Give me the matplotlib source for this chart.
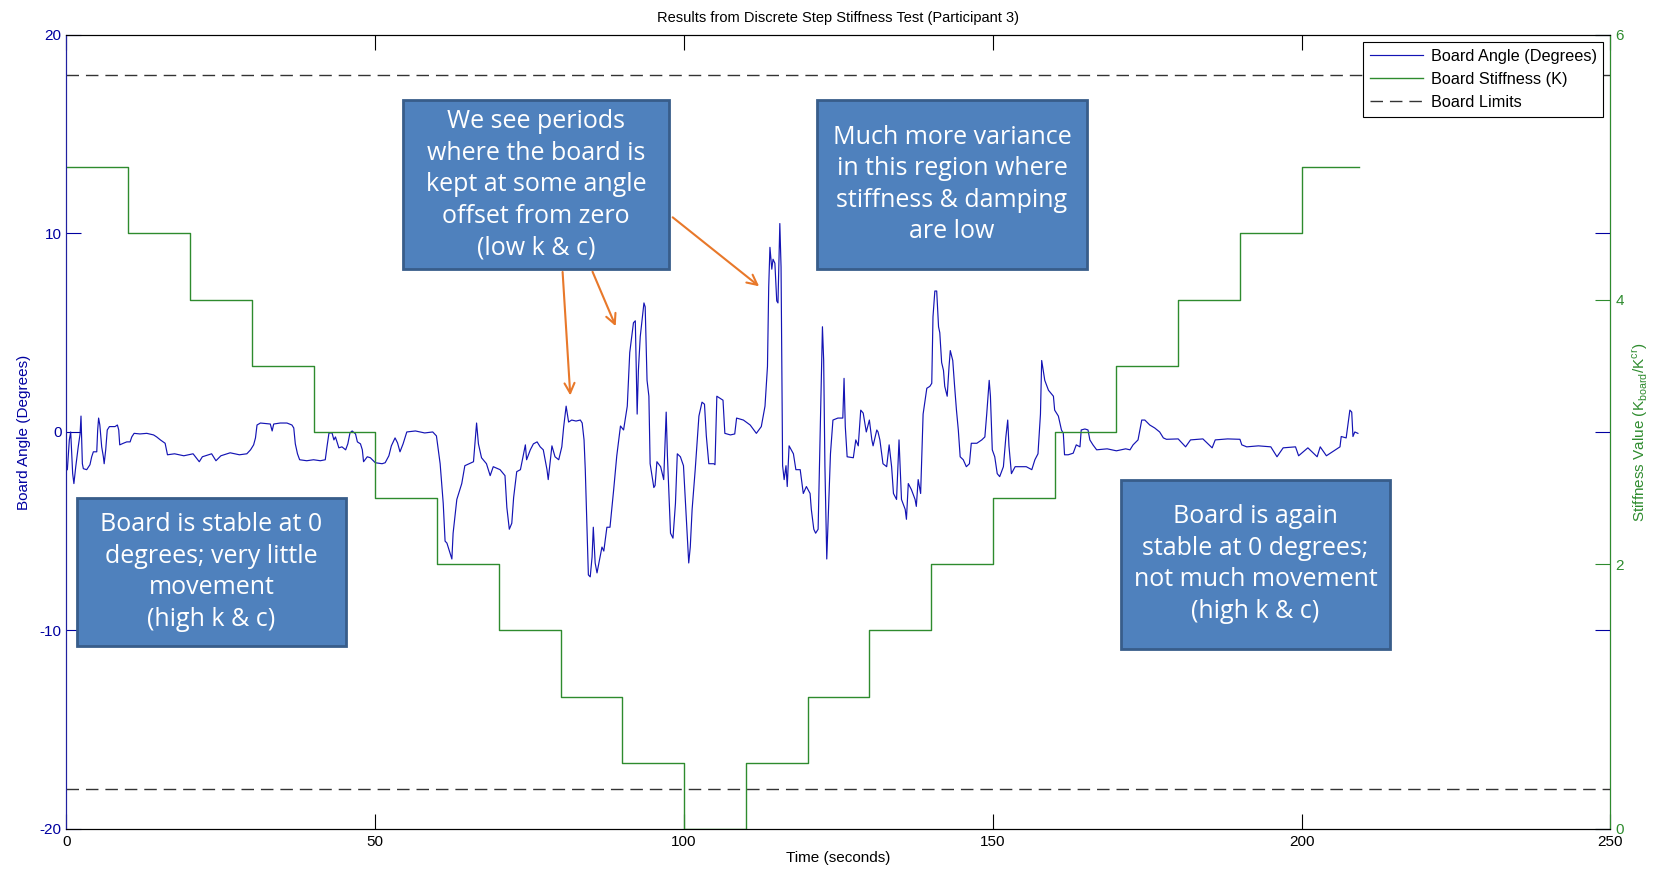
import numpy as np
import matplotlib
matplotlib.use("Agg")
import matplotlib.pyplot as plt
from matplotlib.patches import Rectangle

plt.rcParams['font.family'] = ['Liberation Sans', 'DejaVu Sans']
plt.rcParams['axes.unicode_minus'] = False

# board angle trace (seconds, degrees)
angle_t = [0.14, 0.46, 0.68, 1.0, 1.2, 1.5, 1.9, 2.2, 2.35, 2.57, 2.73, 3.27, 3.8, 4.08, 4.35, 4.9,
           5.05, 5.2, 5.4, 5.7, 5.97, 6.1, 6.35, 6.6, 6.95, 7.86, 8.24, 8.46, 8.62, 9.2, 9.76, 10.3,
           10.57, 10.95, 11.9, 13.0, 14.1, 14.6, 15.2, 15.97, 16.35, 17.5, 19.0, 20.5, 21.5, 22.0,
           23.5, 24.2, 25.0, 26.5, 28.0, 29.2, 29.8, 30.3, 30.6, 30.85, 31.4, 33.0, 33.3, 33.55,
           34.6, 35.7, 36.5, 36.8, 37.05, 37.4, 37.75, 38.9, 40.0, 41.1, 41.9, 42.2, 42.5, 43.0,
           43.3, 43.55, 44.1, 44.6, 45.2, 45.55, 45.9, 46.25, 46.8, 47.1, 47.6, 47.9, 48.1, 48.7,
           49.2, 50.0, 51.1, 51.6, 52.2, 52.6, 53.2, 53.6, 54.0, 54.5, 55.1, 56.5, 58.0, 59.3,
           59.9, 60.5, 61.0, 61.3, 61.6, 62.0, 62.4, 62.6, 63.2, 64.0, 64.5, 65.2, 65.9, 66.4,
           66.7, 67.2, 68.0, 68.6, 69.1, 70.2, 71.0, 71.3, 71.7, 72.1, 72.4, 72.9, 73.5, 74.3,
           74.5, 75.1, 75.6, 76.2, 76.7, 77.2, 77.8, 78.0, 78.6, 79.1, 79.7, 80.2, 80.5, 80.9,
           81.3, 81.8, 82.5, 83.2, 83.5, 83.8, 84.0, 84.3, 84.5, 84.8, 85.1, 85.3, 85.6, 85.9,
           86.4, 86.7, 87.0, 87.5, 88.0, 88.6, 89.1, 89.7, 90.2, 90.8, 91.2, 91.8, 92.1, 92.4,
           92.6, 92.9, 93.5, 93.7, 94.0, 94.3, 94.5, 95.1, 95.3, 95.6, 96.2, 96.7, 97.1, 97.3,
           97.8, 98.2, 98.6, 98.9, 99.4, 99.9, 100.2, 100.75, 101.0, 101.3, 101.8, 102.4, 102.9,
           103.3, 103.6, 104.0, 104.8, 105.0, 105.3, 106.3, 106.6, 107.5, 108.2, 108.5, 109.6,
           110.7, 111.7, 112.5, 113.1, 113.5, 113.7, 113.9, 114.2, 114.4, 114.7, 115.0, 115.2,
           115.5, 115.7, 115.8, 115.95, 116.2, 116.5, 116.7, 117.0, 117.7, 118.1, 118.8, 119.3,
           119.8, 120.4, 120.6, 121.0, 121.3, 121.7, 122.1, 122.4, 122.6, 122.8, 123.1, 123.3,
           123.7, 124.1, 124.9, 125.7, 125.9, 126.1, 126.4, 127.4, 127.8, 128.2, 128.6, 129.0,
           129.5, 130.0, 130.4, 130.6, 131.2, 131.4, 131.7, 132.2, 132.8, 133.2, 133.6, 133.9,
           134.4, 134.8, 135.2, 135.8, 136.0, 136.3, 136.8, 137.4, 137.6, 137.9, 138.3, 138.7,
           139.3, 139.8, 140.1, 140.3, 140.6, 140.9, 141.2, 141.4, 141.7, 142.0, 142.2, 142.6,
           142.9, 143.1, 143.5, 143.8, 144.1, 144.4, 144.7, 145.2, 145.7, 146.2, 146.5, 147.4,
           148.2, 148.7, 149.0, 149.4, 149.6, 149.9, 150.3, 150.7, 151.1, 151.7, 152.1, 152.4,
           152.6, 153.0, 153.6, 154.4, 155.4, 156.3, 156.8, 157.3, 157.7, 157.9, 158.4, 159.0,
           159.8, 160.0, 160.6, 161.1, 161.4, 161.6, 162.2, 163.0, 163.5, 164.1, 164.3, 164.9,
           165.4, 165.7, 166.2, 166.8, 168.5, 170.0, 171.5, 172.2, 172.7, 173.5, 174.1, 174.6,
           175.4, 176.2, 177.0, 177.6, 178.1, 180.0, 181.2, 182.0, 184.0, 185.5, 186.0, 188.0,
           190.0, 190.3, 191.1, 193.0, 195.0, 196.0, 197.0, 199.0, 199.5, 201.0, 202.5, 203.0,
           204.0, 206.2, 206.4, 207.2, 207.8, 208.1, 208.3, 208.6, 209.1]
angle_v = [-1.9, -0.4, 0.0, -2.1, -2.6, -1.75, -0.75, -0.1, 0.8, -1.6, -1.85, -1.9, -1.65, -1.25, -1.0, -1.0,
           0.1, 0.7, 0.35, -0.75, -1.25, -1.6, -0.9, 0.1, 0.27, 0.27, 0.35, 0.1, -0.65, -0.57, -0.5, -0.5,
           -0.25, -0.07, -0.1, -0.07, -0.15, -0.25, -0.4, -0.57, -1.15, -1.1, -1.2, -1.1, -1.5, -1.25,
           -1.1, -1.45, -1.2, -1.05, -1.15, -1.1, -0.9, -0.65, -0.3, 0.35, 0.45, 0.4, 0.05, 0.4,
           0.45, 0.45, 0.35, 0.2, -0.6, -1.1, -1.4, -1.45, -1.4, -1.45, -1.4, -0.7, -0.05, -0.05,
           -0.4, -0.25, -0.8, -0.75, -0.9, -0.6, -0.05, 0.05, -0.1, -0.5, -0.6, -0.9, -1.5, -1.25,
           -1.3, -1.55, -1.6, -1.55, -1.2, -0.7, -0.3, -0.55, -1.0, -0.6, 0.0, 0.05, -0.05, 0.0,
           -0.2, -1.6, -3.6, -5.5, -5.6, -6.0, -6.4, -5.1, -3.4, -2.6, -1.7, -1.6, -1.5, 0.45,
           -0.6, -1.3, -1.6, -2.2, -1.75, -1.9, -2.2, -3.8, -4.9, -4.6, -3.3, -2.0, -1.9, -0.65,
           -1.4, -0.9, -0.6, -0.5, -0.75, -0.9, -1.9, -2.4, -0.7, -1.25, -1.4, -0.75, 0.25, 1.3,
           0.5, 0.6, 0.55, 0.6, 0.45, -0.4, -1.9, -5.1, -7.2, -7.3, -6.3, -4.8, -6.6, -7.1,
           -6.3, -5.8, -6.0, -4.8, -4.8, -2.9, -1.2, 0.3, 0.1, 1.3, 4.0, 5.5, 5.6, 0.9,
           3.1, 4.8, 6.5, 6.3, 2.6, 1.8, -1.6, -2.8, -2.7, -1.5, -1.75, -2.4, 1.0, -1.2,
           -5.1, -5.35, -3.6, -1.1, -1.25, -1.7, -3.4, -6.6, -5.8, -3.9, -1.9, 0.8, 1.5,
           1.4, -0.2, -1.6, -1.6, -1.65, 1.8, 1.6, -0.07, -0.15, -0.1, 0.7, 0.6,
           0.35, -0.07, 0.27, 1.3, 3.3, 7.3, 9.3, 8.2, 8.7, 8.5, 6.6, 6.5,
           10.5, 8.3, 4.1, -1.7, -2.4, -1.7, -2.75, -0.7, -1.1, -1.9, -1.9, -3.1,
           -2.75, -3.1, -3.9, -4.9, -5.1, -4.9, 0.9, 5.3, 3.6, -1.7, -6.4, -4.6,
           -1.1, 0.6, 0.7, 0.7, 2.7, 0.27, -1.25, -1.3, -0.4, -0.7, 1.1, 0.95,
           0.0, 0.6, -0.4, -0.7, 0.1, 0.0, -0.4, -1.6, -1.75, -0.65, -1.75, -3.1,
           -3.4, -0.4, -3.4, -3.9, -4.4, -2.6, -2.9, -3.4, -3.75, -2.4, -3.1, 0.9,
           2.2, 2.3, 2.45, 5.8, 7.1, 7.1, 5.3, 5.0, 3.5, 3.1, 2.3, 1.8,
           3.3, 4.1, 3.6, 2.3, 1.1, 0.1, -1.25, -1.4, -1.75, -1.6, -0.57, -0.57,
           -0.4, -0.25, 0.9, 2.6, 1.8, -0.9, -1.25, -2.1, -2.25, -1.75, -0.25, 0.6,
           -0.7, -2.1, -1.75, -1.75, -1.75, -1.9, -1.4, -1.1, 0.9, 3.6, 2.6, 2.1,
           1.8, 1.1, 0.8, 0.1, -0.07, -1.15, -1.15, -1.07, -0.65, -0.75, 0.1, 0.15,
           0.1, -0.4, -0.65, -0.9, -0.85, -0.95, -0.85, -0.9, -0.65, -0.4, 0.6, 0.6,
           0.35, 0.2, 0.0, -0.3, -0.37, -0.35, -0.75, -0.4, -0.35, -0.8, -0.4, -0.35,
           -0.37, -0.65, -0.75, -0.7, -0.75, -1.25, -0.8, -0.75, -1.2, -0.8, -1.25, -0.75,
           -1.2, -0.75, -0.23, -0.3, 1.1, 1.0, -0.23, 0.0, -0.07]

# stiffness steps (start of each 10 s block) and levels
stiff_t = [0, 10, 20, 30, 40, 50, 60, 70, 80, 90, 100, 110, 120, 130, 140, 150, 160, 170, 180, 190, 200, 209.2]
stiff_k = [5.0, 4.5, 4.0, 3.5, 3.0, 2.5, 2.0, 1.5, 1.0, 0.5, 0.0, 0.5, 1.0, 1.5, 2.0, 2.5, 3.0, 3.5, 4.0, 4.5, 5.0, 5.0]

board_limit = 18

blue = '#1414B4'
green = '#2E8B2E'
box_face = '#4F81BD'
box_edge = '#385D8A'
arrow_col = '#E8782A'

fig = plt.figure(figsize=(16.54, 8.76), dpi=100)
ax = fig.add_axes([0.0402, 0.0537, 0.9335, 0.9064])
ax2 = ax.twinx()

ln1, = ax.plot(angle_t, angle_v, color=blue, lw=0.85)
ln3, = ax.plot([0, 250], [board_limit, board_limit], color='#333333', lw=1.0, ls=(0, (9, 5)))
ax.plot([0, 250], [-board_limit, -board_limit], color='#333333', lw=1.0, ls=(0, (9, 5)))
ln2, = ax2.step(stiff_t, stiff_k, where='post', color=green, lw=1.0)

ax.set_xlim(0, 250)
ax.set_ylim(-20, 20)
ax.set_xticks([0, 50, 100, 150, 200, 250])
ax.set_yticks([-20, -10, 0, 10, 20])
ax2.set_ylim(0, 6)
ax2.set_yticks([0, 2, 4, 6])

ax.tick_params(axis='x', direction='in', length=11, top=True, labelsize=11, pad=4)
ax.tick_params(axis='y', direction='in', length=11, right=True, colors='#0000A0', labelsize=11)
ax2.tick_params(axis='y', direction='in', length=11, colors=green, labelsize=11)
ax.spines['left'].set_color('#2020A0')
ax2.spines['left'].set_color('#2020A0')
ax2.spines['right'].set_color(green)

ax.set_xlabel('Time (seconds)', fontsize=11, labelpad=2)
ax.set_ylabel('Board Angle (Degrees)', fontsize=11, color='#0000A0', labelpad=6)
ax2.set_ylabel(r'Stiffness Value (K$_{\mathregular{board}}$/K$^{\mathregular{cr}}$)',
               fontsize=11, color=green, labelpad=5)
ax.set_title('Results from Discrete Step Stiffness Test (Participant 3)', fontsize=10.5, pad=9)

leg = ax2.legend([ln1, ln2, ln3], ['Board Angle (Degrees)', 'Board Stiffness (K)', 'Board Limits'],
                 loc='upper right', fontsize=11.7, fancybox=False, framealpha=1,
                 edgecolor='black', borderaxespad=0.45, handlelength=3.3, handletextpad=0.45,
                 labelspacing=0.5, borderpad=0.4)
leg.get_frame().set_linewidth(0.8)

# annotation boxes (axes fractions) with their text
boxes = [
    ((0.0068, 0.230), 0.174, 0.187, 'Board is stable at 0\ndegrees; very little\nmovement\n(high k & c)'),
    ((0.218, 0.705), 0.172, 0.213, 'We see periods\nwhere the board is\nkept at some angle\noffset from zero\n(low k & c)'),
    ((0.486, 0.705), 0.175, 0.213, 'Much more variance\nin this region where\nstiffness & damping\nare low'),
    ((0.683, 0.227), 0.174, 0.213, 'Board is again\nstable at 0 degrees;\nnot much movement\n(high k & c)'),
]
for (x0, y0), w, h, txt in boxes:
    ax2.add_patch(Rectangle((x0, y0), w, h, transform=ax2.transAxes, facecolor=box_face,
                            edgecolor=box_edge, lw=2, zorder=5))
    ax2.text(x0 + w / 2, y0 + h / 2, txt, transform=ax2.transAxes, ha='center', va='center',
             color='white', fontsize=18, family=['Open Sans', 'DejaVu Sans'],
             linespacing=1.34, zorder=6)

# orange arrows, in board-angle data coordinates
arrows = [((80.3, 8.2), (81.6, 1.7)), ((85.0, 8.2), (89.1, 5.2)), ((97.8, 10.9), (112.5, 7.25))]
for start, end in arrows:
    ax2.annotate('', xy=end, xycoords=ax.transData, xytext=start, textcoords=ax.transData,
                 arrowprops=dict(arrowstyle='->', color=arrow_col, lw=1.5, mutation_scale=18),
                 zorder=4)

fig.savefig('out.png', dpi=100)
